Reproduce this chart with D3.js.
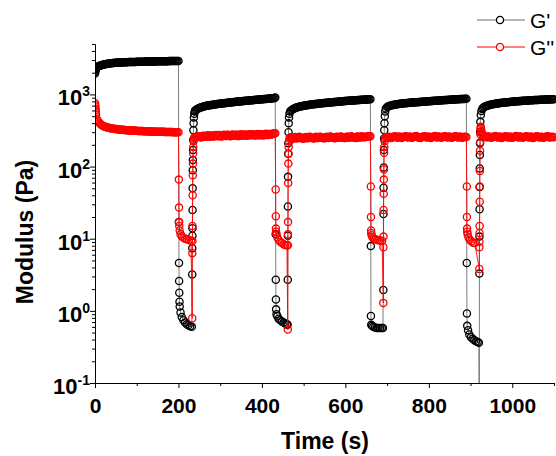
<!DOCTYPE html>
<html>
<head>
<meta charset="utf-8">
<script src="https://cdn.jsdelivr.net/npm/d3@7"></script>
<style>
  body { margin: 0; background: #fff; }
  svg { display: block; font-family: "Liberation Sans", Arial, sans-serif; }
</style>
</head>
<body>
<script>
var width = 556,
    height = 456;

// ---- data ----
// resting (low strain) parts, one value every 2.5 s from the start time
var restStep = 2.5;
var gpRestStart = [2.5, 240, 470, 700, 930];
var gppRestStart = [2.5, 240, 470, 700, 935];

var gpRest1 = [2320, 2400, 2440, 2480, 2510, 2540, 2565, 2590, 2610, 2630,
  2645, 2660, 2675, 2690, 2700, 2710, 2720, 2730, 2738, 2745,
  2752, 2760, 2765, 2770, 2775, 2780, 2785, 2790, 2795, 2800,
  2802, 2805, 2808, 2810, 2812, 2815, 2818, 2820, 2825, 2830,
  2832, 2835, 2838, 2840, 2842, 2845, 2848, 2850, 2852, 2855,
  2858, 2860, 2861, 2862, 2864, 2866, 2868, 2870, 2872, 2874,
  2876, 2878, 2880, 2882, 2884, 2886, 2888, 2890, 2891, 2893,
  2895, 2896, 2898, 2900, 2901, 2903, 2905, 2906, 2908, 2910];
var gpRest2 = [600, 615, 630, 640, 650, 658, 665, 672, 678, 684,
  690, 695, 700, 704, 708, 712, 716, 720, 723, 727,
  730, 734, 737, 740, 744, 747, 750, 753, 756, 759,
  762, 765, 768, 771, 774, 777, 780, 783, 786, 789,
  792, 795, 798, 801, 804, 807, 810, 812, 815, 818,
  820, 823, 826, 828, 831, 833, 836, 839, 842, 844,
  847, 849, 852, 854, 857, 859, 862, 864, 867, 869,
  872, 875, 878, 881, 885, 888, 892];
var gpRest3 = [600, 615, 630, 640, 650, 658, 665, 671, 677, 683,
  688, 693, 697, 701, 705, 709, 712, 716, 719, 723,
  726, 729, 732, 735, 738, 741, 744, 747, 750, 752,
  755, 758, 760, 763, 765, 768, 770, 773, 775, 778,
  780, 783, 785, 788, 790, 793, 795, 798, 800, 803,
  805, 808, 810, 812, 814, 816, 818, 821, 823, 825,
  827, 829, 831, 833, 835, 837, 839, 841, 843, 845,
  847, 849, 851, 853, 855, 858, 860];
var gpRest4 = [670, 680, 690, 698, 705, 711, 716, 721, 725, 729,
  733, 737, 740, 743, 746, 749, 752, 755, 757, 760,
  762, 765, 767, 770, 772, 774, 776, 778, 780, 782,
  784, 786, 788, 790, 792, 794, 796, 798, 800, 802,
  804, 806, 808, 810, 812, 814, 816, 818, 820, 822,
  824, 826, 828, 830, 832, 834, 836, 838, 840, 842,
  844, 846, 848, 850, 852, 853, 855, 856, 858, 860,
  861, 863, 864, 866, 867, 869, 870];
var gpRest5 = [655, 668, 680, 690, 698, 705, 712, 718, 724, 729,
  734, 739, 743, 747, 751, 755, 758, 762, 765, 768,
  771, 774, 777, 780, 782, 785, 787, 790, 792, 795,
  797, 800, 802, 804, 806, 808, 810, 812, 814, 816,
  818, 820, 822, 824, 826, 828, 829, 831, 832, 834,
  835, 837, 838, 840, 841, 843, 844, 846, 847, 849,
  850, 851, 852, 853, 854, 855, 856, 857, 858];

var gppRest1 = [520, 450, 425, 405, 392, 380, 372, 365, 360, 355,
  351, 348, 345, 342, 340, 338, 336, 334, 332, 331,
  329, 328, 327, 326, 325, 324, 323, 322, 321, 320,
  319, 318, 317, 317, 316, 315, 315, 314, 313, 313,
  312, 312, 311, 311, 310, 310, 309, 309, 308, 308,
  307, 307, 306, 306, 306, 306, 305, 305, 304, 304,
  304, 304, 303, 303, 303, 303, 302, 302, 302, 302,
  301, 301, 301, 301, 300, 300, 300, 300, 300, 300];
var gppRest2 = [250, 256, 258, 264, 262, 256, 253, 265, 268, 259,
  258, 268, 272, 262, 260, 269, 270, 261, 262, 272,
  274, 265, 264, 273, 272, 262, 263, 273, 276, 266,
  266, 275, 274, 265, 264, 274, 278, 268, 268, 277,
  276, 266, 266, 276, 280, 270, 269, 278, 277, 267,
  268, 278, 281, 271, 271, 280, 279, 269, 270, 279,
  282, 272, 272, 281, 280, 270, 271, 281, 284, 274,
  274, 283, 282, 276, 284, 285, 288];
var gppRest3 = [250, 242, 244, 254, 256, 247, 246, 255, 258, 249,
  248, 245, 243, 253, 257, 248, 247, 256, 259, 250,
  249, 246, 245, 254, 258, 249, 248, 257, 260, 251,
  250, 247, 246, 255, 259, 250, 249, 258, 261, 252,
  251, 248, 247, 256, 260, 251, 250, 259, 262, 253,
  252, 249, 248, 257, 261, 252, 251, 260, 263, 254,
  253, 250, 249, 258, 262, 253, 252, 261, 264, 255,
  254, 258, 257, 262, 263, 262, 263];
var gppRest4 = [252, 255, 260, 252, 248, 253, 258, 261, 263, 255,
  251, 256, 261, 253, 249, 254, 259, 262, 264, 256,
  252, 257, 262, 254, 250, 255, 260, 263, 265, 257,
  253, 250, 248, 254, 259, 262, 264, 256, 252, 257,
  261, 253, 249, 254, 259, 262, 265, 257, 253, 258,
  262, 254, 250, 255, 260, 263, 264, 256, 252, 257,
  261, 254, 251, 255, 259, 261, 263, 256, 253, 257,
  261, 254, 251, 255, 259, 257, 257];
var gppRest5 = [264, 258, 253, 258, 262, 254, 250, 255, 260, 263,
  265, 256, 252, 256, 261, 253, 249, 254, 259, 262,
  264, 256, 252, 257, 261, 253, 250, 255, 260, 263,
  265, 257, 253, 258, 262, 254, 250, 255, 259, 262,
  264, 256, 252, 257, 261, 253, 249, 254, 259, 262,
  264, 256, 252, 256, 260, 253, 250, 255, 259, 262,
  263, 256, 252, 256, 260, 257, 255];

// first seconds and the high strain steps, [time (s), modulus (Pa)]
var gpHead = [[0, 1950], [0.5, 2050], [1, 2130], [1.5, 2200], [2, 2260]];
var gpJump1 = [[201, 17], [201.3, 4.6], [201.6, 2.6], [202, 1.78], [202.5, 1.34], [203, 1.15],
  [205, 0.95], [208, 0.82], [212, 0.74], [216, 0.69], [220, 0.65], [224, 0.63], [228, 0.61], [232, 0.6],
  [233, 3.2], [233.2, 7.4], [233.4, 11], [233.6, 14], [233.8, 25], [234, 50], [234.3, 89], [234.6, 123],
  [235, 170], [235.4, 234], [235.8, 318], [236.3, 400], [237, 480], [238, 540], [239, 580]];
var gpJump2 = [[432, 905], [433, 11.5], [433.3, 2.7], [433.6, 1.44], [434, 1.05], [435, 0.9], [437, 0.84],
  [440, 0.78], [444, 0.74], [448, 0.71], [452, 0.69], [456, 0.67], [460, 0.65], [461.5, 0.64],
  [462, 2.7], [462.15, 11], [462.3, 28], [462.6, 72], [463, 150], [463.4, 210], [463.8, 300],
  [464.3, 400], [465, 480], [466, 540], [467.5, 580]];
var gpJump3 = [[661, 7.9], [661.3, 0.85], [662, 0.64], [664, 0.62], [667, 0.6], [671, 0.59], [675, 0.58],
  [679, 0.58], [683, 0.58], [687, 0.58], [690, 0.58],
  [691, 1.95], [691.3, 22], [691.6, 51], [692, 97], [692.4, 170], [692.8, 245], [693.2, 318],
  [693.7, 400], [694.5, 500], [695.5, 580], [697, 640]];
var gpJump4 = [[891, 4.6], [891.3, 0.92], [892, 0.62], [894, 0.54], [897, 0.47], [901, 0.43], [905, 0.41],
  [909, 0.39], [913, 0.38], [917, 0.37], [920, 0.36], [921, 0.01],
  [921.2, 3.3], [921.4, 10.7], [921.6, 25.6], [921.8, 52], [922, 94], [922.3, 145], [922.6, 210],
  [923, 302], [923.5, 417], [924.5, 520], [926, 590], [928, 630]];

var gppHead = [[0, 760], [0.3, 720], [0.6, 680], [1, 640], [1.5, 600], [2, 560]];
var gppJump1 = [[201, 66], [201.3, 27], [201.6, 17], [202, 15], [203, 13], [205, 11.5], [208, 10.8],
  [212, 10.3], [216, 10], [220, 9.8], [225, 9.6], [230, 9.4],
  [233, 0.79], [233.2, 6.3], [233.4, 9.3], [233.6, 15], [234, 40], [234.4, 76], [234.8, 110],
  [235.2, 153], [235.6, 187], [236.2, 225], [237, 245], [238.5, 255]];
var gppJump2 = [[432, 290], [433, 48], [433.3, 20.5], [433.6, 13.8], [434, 12.5], [435, 11.5], [437, 10.5],
  [440, 9.7], [444, 9.1], [448, 8.7], [452, 8.4], [456, 8.2], [460, 8.1],
  [462, 0.55], [462.2, 8.1], [462.4, 11.5], [462.6, 17], [463, 59], [463.4, 110], [463.8, 150],
  [464.2, 187], [465, 225], [466, 245], [468, 255]];
var gppJump3 = [[661, 53], [661.3, 20], [661.6, 13], [662, 12], [663, 11.2], [665, 10.5], [668, 10],
  [672, 9.8], [676, 9.6], [680, 9.5], [684, 9.4], [688, 9.4],
  [691, 1.29], [691.2, 7.6], [691.4, 10.7], [691.6, 25], [691.9, 42], [692.2, 66], [692.5, 91],
  [692.9, 155], [693.3, 187], [694, 225], [695, 245], [697, 255]];
var gppJump4 = [[891, 53], [891.3, 20], [891.6, 13.8], [892, 12.5], [893, 11.5], [895, 10.5], [898, 9.7],
  [902, 9.2], [906, 8.8], [910, 8.7],
  [921, 3.8], [921.2, 7.6], [921.4, 9.1], [921.6, 12], [921.8, 15], [922, 32.6], [922.2, 53],
  [922.4, 87], [922.7, 166], [923, 218], [923.4, 280], [923.8, 330], [924.3, 355], [925, 340],
  [926, 310], [928, 285], [930, 270]];

var xMajor = [0, 200, 400, 600, 800, 1000];
var xMinor = [100, 300, 500, 700, 900, 1100];
var yMajor = [0.1, 1, 10, 100, 1000];
var yExp = ["-1", "0", "1", "2", "3"];
var legendNames = ["G'", "G''"];

// put the pieces of one series in time order
function build(head, rests, starts, jumps) {
  var out = head.slice();
  rests.forEach(function(r, i) {
    r.forEach(function(v, k) { out.push([starts[i] + k * restStep, v]); });
    if (jumps[i]) out = out.concat(jumps[i]);
  });
  return out;
}

var gPrime = build(gpHead, [gpRest1, gpRest2, gpRest3, gpRest4, gpRest5], gpRestStart,
  [gpJump1, gpJump2, gpJump3, gpJump4]);
var gDouble = build(gppHead, [gppRest1, gppRest2, gppRest3, gppRest4, gppRest5], gppRestStart,
  [gppJump1, gppJump2, gppJump3, gppJump4]);

var x = d3.scaleLinear().domain([0, 1100]).range([95, 554]);
var y = d3.scaleLog().domain([0.1, 5000]).range([383, 44]);

var svg = d3.select("body").append("svg")
    .attr("width", width)
    .attr("height", height);

svg.append("clipPath").attr("id", "plot")
  .append("rect")
    .attr("x", 95).attr("y", 44)
    .attr("width", 461).attr("height", 339);

var line = d3.line()
    .x(function(d) { return x(d[0]); })
    .y(function(d) { return y(d[1]); });

var series = [
  { data: gPrime, line: "#6e6e6e", mark: "#000" },
  { data: gDouble, line: "#ff0000", mark: "#ff0000" }
];

var g = svg.append("g").attr("clip-path", "url(#plot)");

series.forEach(function(s) {
  g.append("path")
    .datum(s.data)
    .attr("d", line)
    .attr("fill", "none")
    .attr("stroke", s.line)
    .attr("stroke-width", 0.9);

  g.append("g").selectAll("circle")
    .data(s.data)
    .enter()
    .append("circle")
    .attr("cx", function(d) { return x(d[0]); })
    .attr("cy", function(d) { return y(d[1]); })
    .attr("r", 3.6)
    .attr("fill", "none")
    .attr("stroke", s.mark)
    .attr("stroke-width", 1.3);
});

// axes
var xAxis = svg.append("g")
    .attr("transform", "translate(0,383)")
    .call(d3.axisBottom(x).tickValues(xMajor).tickSize(5).tickSizeOuter(0)
      .tickPadding(10).tickFormat(d3.format("d")));
svg.append("g")
    .attr("transform", "translate(0,383)")
    .call(d3.axisBottom(x).tickValues(xMinor).tickSize(3).tickSizeOuter(0).tickFormat(""));

xAxis.selectAll("text")
    .attr("font-size", 21)
    .attr("font-weight", "bold")
    .attr("font-family", "Liberation Sans, Arial, sans-serif")
    .attr("fill", "#000");

var yMinor = [];
[0.1, 1, 10, 100, 1000].forEach(function(d) {
  for (var k = 2; k <= 9; k++) if (d * k <= 5000) yMinor.push(d * k);
});

svg.append("g")
    .attr("transform", "translate(95,0)")
    .call(d3.axisLeft(y).tickValues(yMajor).tickSize(5).tickSizeOuter(0).tickFormat(""));
svg.append("g")
    .attr("transform", "translate(95,0)")
    .call(d3.axisLeft(y).tickValues(yMinor).tickSize(3).tickSizeOuter(0).tickFormat(""));

svg.selectAll(".domain, .tick line").attr("stroke", "#000").attr("stroke-width", 1);

var yLab = svg.append("g").selectAll("text")
    .data(yMajor)
    .enter()
    .append("text")
    .attr("x", 90)
    .attr("y", function(d) { return y(d) + 11; })
    .attr("text-anchor", "end")
    .attr("font-size", 22)
    .attr("font-weight", "bold");
yLab.append("tspan").text("10");
yLab.append("tspan")
    .attr("dy", -9)
    .attr("font-size", 14)
    .text(function(d, i) { return yExp[i]; });

// titles
svg.append("text")
    .attr("x", 325)
    .attr("y", 449)
    .attr("text-anchor", "middle")
    .attr("font-size", 23)
    .attr("font-weight", "bold")
    .text("Time (s)");

svg.append("text")
    .attr("transform", "translate(33,232) rotate(-90)")
    .attr("text-anchor", "middle")
    .attr("font-size", 23)
    .attr("font-weight", "bold")
    .text("Modulus (Pa)");

// legend
var leg = svg.append("g").selectAll("g")
    .data(series)
    .enter()
    .append("g")
    .attr("transform", function(d, i) { return "translate(0," + (20 + i * 27) + ")"; });
leg.append("line")
    .attr("x1", 477).attr("x2", 525)
    .attr("stroke", function(d) { return d.line; })
    .attr("stroke-width", 1);
leg.append("circle")
    .attr("cx", 500)
    .attr("r", 3.6)
    .attr("fill", "#fff")
    .attr("stroke", function(d) { return d.mark; })
    .attr("stroke-width", 1.3);
leg.append("text")
    .attr("x", 530)
    .attr("y", 8)
    .attr("font-size", 21)
    .text(function(d, i) { return legendNames[i]; });
</script>
</body>
</html>
